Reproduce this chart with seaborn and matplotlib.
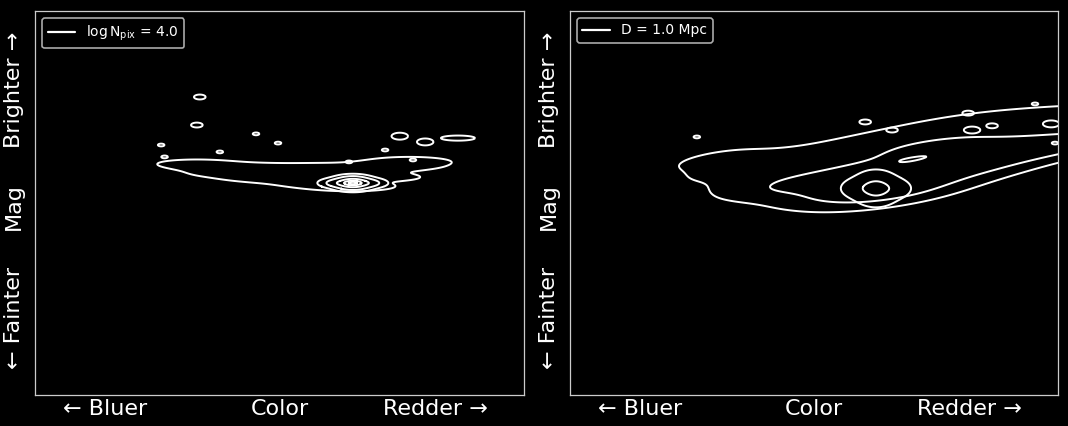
import numpy as np
import pandas as pd
import seaborn as sns
import matplotlib
matplotlib.use("Agg")
import matplotlib.pyplot as plt
from matplotlib.lines import Line2D

# ---------------- data (normalised colour / magnitude units, 0-100) ----------------
# Left panel (log N_pix = 4.0): main sequence band
left_band_color = [33.0, 36.8, 39.9, 46.0, 52.1, 58.3, 64.4, 70.6, 74.6, 77.0,
                   46.0, 52.1, 58.3, 64.4, 70.6]
left_band_mag = [60.2, 59.4, 57.9, 59.1, 58.6, 59.1, 58.6, 59.4, 59.9, 60.9,
                 56.8, 56.3, 55.2, 54.4, 56.8]
left_band_weight = [0.8, 1, 1, 1, 1, 1, 1, 1, 1, 0.8,
                    1, 1, 1.2, 1.4, 1]
# Left panel: density peak
left_peak_color = [65.0, 62.0, 68.0, 65.0, 65.0]
left_peak_mag = [55.2, 55.2, 55.2, 56.2, 54.2]
left_peak_weight = [2, 1, 1, 1, 1]
# Left panel: isolated islands
left_isl_color = [33.7, 33.1, 25.8, 45.2, 49.7, 37.8, 74.6, 79.8, 64.2, 71.6, 77.3, 86.5, 26.5]
left_isl_mag = [77.6, 70.3, 65.1, 68.0, 65.6, 63.3, 67.4, 65.9, 60.7, 63.8, 61.2, 66.9, 62.0]
left_isl_kind = ["small", "small", "tiny", "tiny", "tiny", "tiny", "medium", "medium",
                 "tiny", "tiny", "tiny", "long", "tiny"]

# Right panel (D = 1.0 Mpc): band (upper wing, faint tail, dense rows)
right_band_color = [29.5, 30.7, 36.9, 43.0, 49.2, 55.3, 61.5, 67.6, 73.8, 79.9, 86.1, 92.2, 98.4, 104.5,
                    30.7, 36.9, 43.0,
                    43.0, 49.2, 55.3, 61.5, 67.6, 73.8, 79.9, 86.1, 92.2, 98.4, 104.5,
                    55.3, 61.5, 67.6, 73.8, 79.9, 86.1,
                    49.2, 55.3, 61.5, 67.6, 73.8, 79.9, 86.1, 92.2, 98.4, 104.5,
                    62.7]
right_band_mag = [62.0, 61.2, 60.7, 61.2, 62.2, 64.3, 65.9, 67.4, 69.3, 70.6, 71.4, 71.9, 72.4, 72.9,
                  57.6, 56.0, 54.4,
                  55.2, 56.0, 58.1, 60.4, 63.5, 65.1, 65.9, 65.9, 65.9, 66.1, 66.4,
                  54.9, 55.7, 57.6, 59.6, 61.5, 62.8,
                  54.2, 52.8, 52.0, 52.3, 55.2, 57.8, 60.0, 62.3, 64.5, 65.6,
                  53.8]
right_band_weight = [0.5, 0.7, 0.8, 0.8, 0.8, 0.8, 0.8, 0.8, 0.8, 0.8, 0.8, 0.8, 0.8, 0.8,
                     0.7, 0.8, 1.0,
                     1.5, 2.5, 2.5, 2.5, 2.5, 2.5, 2.5, 2.5, 2.5, 2.5, 2.5,
                     2.5, 2.5, 2.5, 2.5, 2.5, 2.5,
                     2.5, 3, 3, 3, 3, 3, 3, 3, 3, 3,
                     6]
# Right panel: density peak
right_peak_color = [62.7, 59.2, 66.2, 62.7, 62.7]
right_peak_mag = [53.8, 53.8, 53.8, 56.2, 51.4]
right_peak_weight = [2, 1, 1, 1, 1]
# Right panel: isolated islands
right_isl_color = [26.0, 60.5, 66.0, 81.6, 95.3, 82.4, 86.5, 98.6, 99.4]
right_isl_mag = [67.2, 71.1, 69.0, 73.4, 75.8, 69.0, 70.1, 70.6, 65.6]
right_isl_kind = ["tiny", "small", "small", "small", "tiny", "medium", "small", "medium", "tiny"]

legend_labels = [r"$\log\mathrm{N_{pix}}$ = 4.0", "D = 1.0 Mpc"]
x_tick_pos = [14.3, 50.0, 81.8]
x_tick_labels = ["\u2190 Bluer", "Color", "Redder \u2192"]
y_tick_pos = [20.0, 49.0, 79.4]
y_tick_labels = ["\u2190 Fainter", "Mag", "Brighter \u2192"]

sns.set_theme(style="dark")
plt.rcParams["font.family"] = ["DejaVu Sans"]

t = np.linspace(0, 2 * np.pi, 60)
ellipse_marker = list(zip(np.cos(t), 0.42 * np.sin(t)))
long_marker = list(zip(np.cos(t), 0.15 * np.sin(t)))
island_sizes = {"tiny": 22, "small": 70, "medium": 140}

fig = plt.figure(figsize=(10.68, 4.26), dpi=100, facecolor="black")
ax1 = fig.add_axes([0.0328, 0.0728, 0.4578, 0.9014])
ax2 = fig.add_axes([0.5337, 0.0728, 0.4569, 0.9014])

panels = [
    dict(ax=ax1, band=(left_band_color, left_band_mag, left_band_weight), band_levels=[0.06], band_bw=0.6,
         peak=(left_peak_color, left_peak_mag, left_peak_weight),
         peak_levels=[0.026, 0.15, 0.5, 0.8, 0.95], peak_bw=1.3,
         isl=(left_isl_color, left_isl_mag, left_isl_kind), label=legend_labels[0]),
    dict(ax=ax2, band=(right_band_color, right_band_mag, right_band_weight), band_levels=[0.03, 0.33], band_bw=0.72,
         peak=(right_peak_color, right_peak_mag, right_peak_weight),
         peak_levels=[0.08, 0.7], peak_bw=1.3,
         isl=(right_isl_color, right_isl_mag, right_isl_kind), label=legend_labels[1]),
]

for p in panels:
    ax = p["ax"]
    bc, bm, bw = p["band"]
    df_band = pd.DataFrame({"color": bc, "mag": bm, "w": bw})
    sns.kdeplot(data=df_band, x="color", y="mag", weights="w", ax=ax,
                levels=p["band_levels"], bw_adjust=p["band_bw"], color="white",
                linewidths=1.4, gridsize=300, cut=4)
    pc, pm, pw = p["peak"]
    df_peak = pd.DataFrame({"color": pc, "mag": pm, "w": pw})
    sns.kdeplot(data=df_peak, x="color", y="mag", weights="w", ax=ax,
                levels=p["peak_levels"], bw_adjust=p["peak_bw"], color="white",
                linewidths=1.4, gridsize=200, cut=4)
    ic, im, ik = p["isl"]
    df_isl = pd.DataFrame({"color": ic, "mag": im, "kind": ik})
    df_small = df_isl[df_isl["kind"] != "long"]
    df_long = df_isl[df_isl["kind"] == "long"]
    for sub, marker, sizes in [(df_small, ellipse_marker, island_sizes),
                               (df_long, long_marker, {"long": 600})]:
        if len(sub) == 0:
            continue
        n_before = len(ax.collections)
        sns.scatterplot(data=sub, x="color", y="mag", size="kind", sizes=sizes,
                        marker=marker, color="white", legend=False, ax=ax)
        for coll in ax.collections[n_before:]:
            coll.set_facecolor("none")
            coll.set_edgecolor("white")
            coll.set_linewidth(1.4)

    ax.set_facecolor("black")
    ax.set_xlim(0, 100)
    ax.set_ylim(0, 100)
    ax.set_xlabel("")
    ax.set_ylabel("")
    ax.grid(False)
    for s in ax.spines.values():
        s.set_visible(True)
        s.set_color("#cccccc")
        s.set_linewidth(0.9)
    ax.set_xticks(x_tick_pos)
    ax.set_xticklabels(x_tick_labels)
    ax.set_yticks(y_tick_pos)
    ax.set_yticklabels(y_tick_labels, rotation=90, va="center")
    ax.tick_params(axis="both", length=0, labelsize=16, colors="white")
    ax.tick_params(axis="x", pad=3)
    ax.tick_params(axis="y", pad=8)
    handle = Line2D([], [], color="white", linewidth=1.6)
    leg = ax.legend([handle], [p["label"]], loc="upper left", fontsize=10,
                    facecolor="black", edgecolor="#aaaaaa", framealpha=1,
                    labelcolor="white", handlelength=2.0)
    leg.get_frame().set_linewidth(1.2)

fig.savefig("out.png", dpi=100, facecolor="black")
